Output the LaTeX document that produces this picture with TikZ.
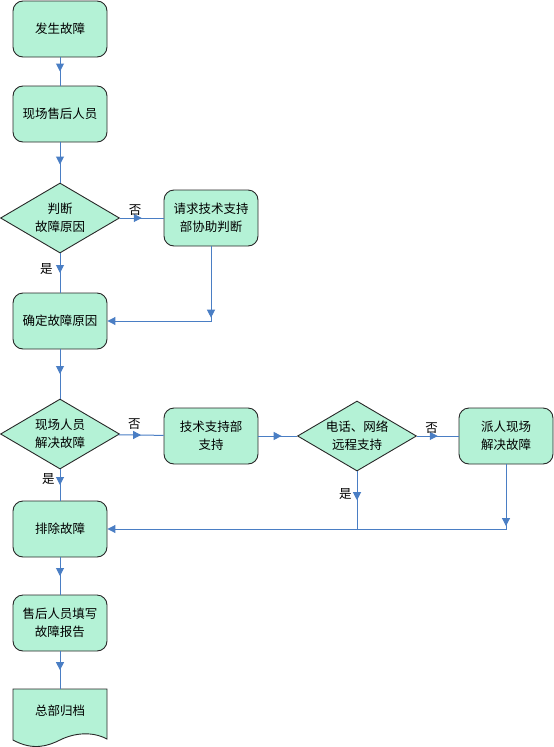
\documentclass[tikz,border=0pt]{standalone}
\usepackage{fontspec}
\newfontfamily\cjk{Noto Sans CJK SC}
\usetikzlibrary{shapes.geometric,arrows.meta,decorations.markings}
\definecolor{mint}{RGB}{180,242,214}
\definecolor{flowblue}{RGB}{74,126,196}
\definecolor{edgegray}{RGB}{40,40,40}

\begin{document}
\begin{tikzpicture}[x=1pt,y=-1pt,
  font=\cjk\fontsize{12.5}{18}\selectfont,
  proc/.style={rectangle, rounded corners=10pt, draw=edgegray, fill=mint, line width=0.9pt, minimum width=94pt, minimum height=56pt, align=center, inner sep=2pt},
  choice/.style={diamond, aspect=1.7, draw=edgegray, fill=mint, line width=0.9pt, minimum width=119pt, minimum height=70pt, align=center, inner sep=0pt},
  flow/.style={color=flowblue, line width=1pt},
  tipat/.style={flow, postaction={decorate}, decoration={markings, mark=at position #1 with {\arrow{Triangle[width=8pt,length=8pt]}}}},
  yn/.style={inner sep=2pt, text=black}]
\useasboundingbox (0,0) rectangle (554,747);

\node (A1) at (60,29) [proc] {发生故障};
\node (A2) at (60,114) [proc] {现场售后人员};
\node (D1) at (60,218) [choice] {判断\\故障原因};
\node (Q1) at (211,218) [proc] {请求技术支持\\部协助判断};
\node (A3) at (60,321) [proc] {确定故障原因};
\node (D2) at (60,434) [choice] {现场人员\\解决故障};
\node (T1) at (211,436) [proc] {技术支持部\\支持};
\node (D3) at (357,436) [choice] {电话、网络\\远程支持};
\node (P1) at (506,436) [proc] {派人现场\\解决故障};
\node (A4) at (60,529) [proc] {排除故障};
\node (A5) at (60,623) [proc] {售后人员填写\\故障报告};
\node (A6) at (60,711) [minimum width=94pt, minimum height=44pt] {};
\coordinate (J1) at (D3 |- A4);

\draw [draw=edgegray, fill=mint, line width=0.9pt] (13,689) -- (107,689) -- (107,739)
  .. controls (92,731) and (74,733) .. (60,740)
  .. controls (48,746) and (33,751) .. (13,740) -- cycle;
\node (A6t) at (A6) {总部归档};

\draw [tipat=0.5] (A1) -- (A2);
\draw [tipat=0.55] (A2) -- (D1);
\draw [tipat=0.5] (D1) -- (Q1) node[pos=0.35, above, yn] (n1) {否};
\draw [tipat=0.5] (D1) -- (A3) node[pos=0.4, left, yn, xshift=-5pt] (y1) {是};
\draw [tipat=0.40, -{Triangle[width=8pt,length=8pt]}] (Q1) |- (A3);
\draw [tipat=0.5] (A3) -- (D2);
\draw [tipat=0.5] (D2) -- (T1) node[pos=0.35, above, yn, yshift=3pt] (n2) {否};
\draw [tipat=0.6] (T1) -- (D3);
\draw [tipat=0.5] (D3) -- (P1) node[pos=0.35, above, yn] (n3) {否};
\draw [tipat=0.5] (D3) -- (J1) node[pos=0.4, left, yn, xshift=-3pt] (y3) {是};
\draw [tipat=0.133, -{Triangle[width=8pt,length=8pt]}] (P1) |- (A4);
\draw [tipat=0.5] (D2) -- (A4) node[pos=0.3, left, yn, xshift=-3pt] (y2) {是};
\draw [tipat=0.5] (A4) -- (A5);
\draw [tipat=0.5] (A5) -- (A6);
\end{tikzpicture}
\end{document}
